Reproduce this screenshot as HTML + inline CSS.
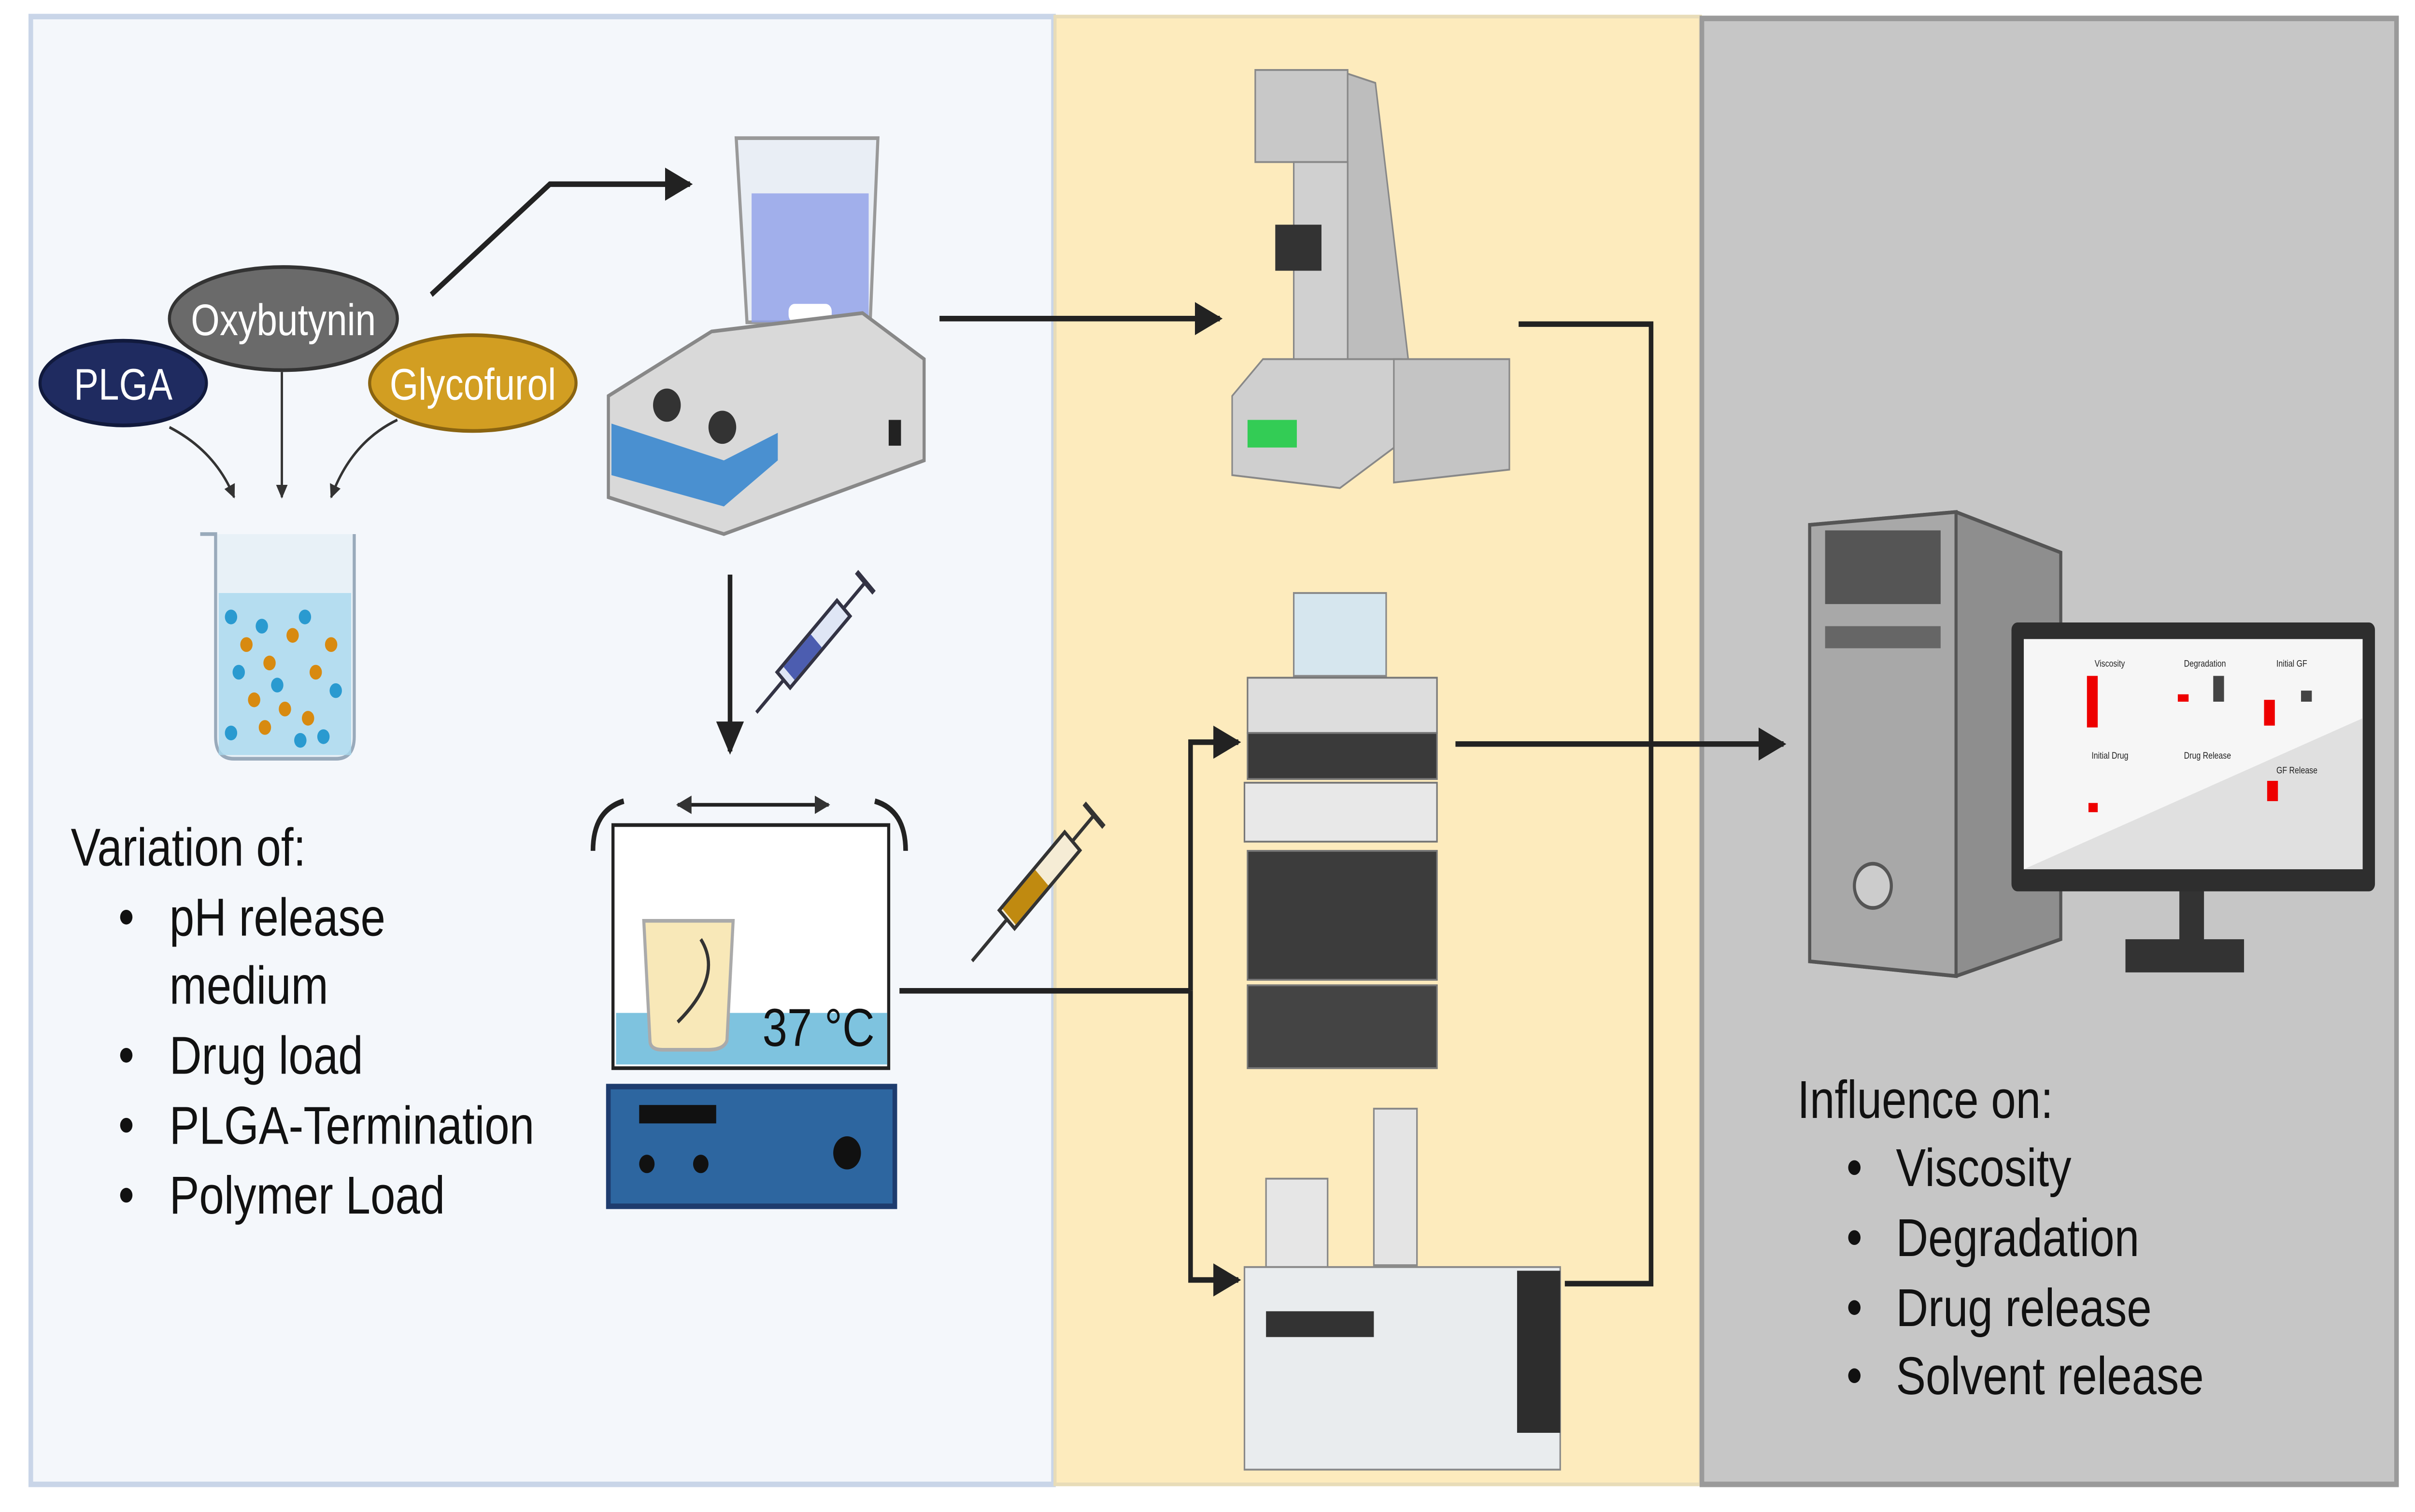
<!DOCTYPE html>
<html><head><meta charset="utf-8"><style>html,body{margin:0;padding:0;background:#fff;overflow:hidden;width:100%;height:100%}svg{display:block;position:absolute;left:0;top:0;width:100vw;height:100vh}</style></head>
<body>
<svg viewBox="0 0 1568 821" preserveAspectRatio="none" xmlns="http://www.w3.org/2000/svg" font-family="Liberation Sans, sans-serif">
<defs>
<marker id="a" viewBox="0 0 10 10" refX="9" refY="5" markerWidth="6" markerHeight="6" orient="auto"><path d="M0,0L10,5L0,10z" fill="#222"/></marker>
<marker id="s" viewBox="0 0 10 10" refX="9" refY="5" markerWidth="5" markerHeight="5" orient="auto"><path d="M0,0L10,5L0,10z" fill="#333"/></marker>
<marker id="s2" viewBox="0 0 10 10" refX="1" refY="5" markerWidth="5" markerHeight="5" orient="auto"><path d="M10,0L0,5L10,10z" fill="#333"/></marker>
</defs>
<rect width="1568" height="821" fill="#fff"/>
<rect x="20" y="9" width="664" height="797" fill="#f4f7fb" stroke="#c9d5e8" stroke-width="3"/>
<rect x="685" y="9" width="419" height="797" fill="#fdebbd" stroke="#e8dcb8" stroke-width="2"/>
<rect x="1105" y="10" width="451" height="796" fill="#c6c6c6" stroke="#9a9a9a" stroke-width="3"/>

<ellipse cx="184" cy="173" rx="74" ry="28" fill="#6a6a6a" stroke="#333" stroke-width="2"/>
<text x="184" y="182" font-size="24" fill="#fff" text-anchor="middle">Oxybutynin</text>
<ellipse cx="80" cy="208" rx="54" ry="23" fill="#1f2b60" stroke="#111a3d" stroke-width="2"/>
<text x="80" y="217" font-size="24" fill="#fff" text-anchor="middle">PLGA</text>
<ellipse cx="307" cy="208" rx="67" ry="26" fill="#d29e22" stroke="#8a6410" stroke-width="2"/>
<text x="307" y="217" font-size="24" fill="#fff" text-anchor="middle">Glycofurol</text>
<path d="M110,232 Q140,245 152,270" fill="none" stroke="#333" stroke-width="1.5" marker-end="url(#s)"/>
<line x1="183" y1="202" x2="183" y2="270" stroke="#333" stroke-width="1.5" marker-end="url(#s)"/>
<path d="M258,228 Q228,240 215,270" fill="none" stroke="#333" stroke-width="1.5" marker-end="url(#s)"/>

<path d="M130,290 L140,290 L140,400 Q140,412 152,412 L218,412 Q230,412 230,400 L230,290" fill="#e8f1f7" stroke="#9ab" stroke-width="2"/>
<rect x="142" y="322" width="86" height="88" fill="#a8d8ee" opacity="0.8"/>
<g fill="#d88a10"><circle cx="160" cy="350" r="4"/><circle cx="175" cy="360" r="4"/><circle cx="190" cy="345" r="4"/><circle cx="205" cy="365" r="4"/><circle cx="165" cy="380" r="4"/><circle cx="185" cy="385" r="4"/><circle cx="200" cy="390" r="4"/><circle cx="215" cy="350" r="4"/><circle cx="172" cy="395" r="4"/></g>
<g fill="#2a9ad0"><circle cx="150" cy="335" r="4"/><circle cx="170" cy="340" r="4"/><circle cx="198" cy="335" r="4"/><circle cx="218" cy="375" r="4"/><circle cx="155" cy="365" r="4"/><circle cx="180" cy="372" r="4"/><circle cx="195" cy="402" r="4"/><circle cx="210" cy="400" r="4"/><circle cx="150" cy="398" r="4"/></g>

<g font-size="29" fill="#111">
<text x="46" y="470">Variation of:</text>
<text x="110" y="508">pH release</text><text x="110" y="545">medium</text>
<text x="110" y="583">Drug load</text><text x="110" y="621">PLGA-Termination</text><text x="110" y="659">Polymer Load</text>
</g>
<g fill="#111"><circle cx="82" cy="498" r="4"/><circle cx="82" cy="573" r="4"/><circle cx="82" cy="611" r="4"/><circle cx="82" cy="649" r="4"/></g>

<polyline points="280,160 357,100 448,100" fill="none" stroke="#222" stroke-width="3" marker-end="url(#a)"/>
<path d="M478,75 L570,75 L565,175 L485,175z" fill="#e9eef5" stroke="#999" stroke-width="2"/>
<rect x="488" y="105" width="76" height="70" fill="#8f9fe8" opacity="0.8"/>
<rect x="512" y="165" width="28" height="10" rx="4" fill="#fff"/>
<path d="M462,180 L560,170 L600,195 L600,250 L470,290 L395,270 L395,215z" fill="#d9d9d9" stroke="#888" stroke-width="2"/>
<path d="M397,230 L470,250 L505,235 L505,250 L470,275 L397,258z" fill="#4a90d0"/>
<circle cx="433" cy="220" r="9" fill="#333"/><circle cx="469" cy="232" r="9" fill="#333"/>
<rect x="577" y="228" width="8" height="14" fill="#222"/>

<line x1="610" y1="173" x2="792" y2="173" stroke="#222" stroke-width="3" marker-end="url(#a)"/>
<line x1="474" y1="312" x2="474" y2="408" stroke="#222" stroke-width="3" marker-end="url(#a)"/>
<g transform="translate(530,348) rotate(-45)"><rect x="-30" y="-6" width="55" height="12" fill="#dfe6f5" stroke="#334" stroke-width="2"/><rect x="-25" y="-5" width="25" height="10" fill="#4c5db0"/><line x1="-30" y1="0" x2="-55" y2="0" stroke="#334" stroke-width="2"/><line x1="25" y1="0" x2="45" y2="0" stroke="#334" stroke-width="2"/><line x1="45" y1="-8" x2="45" y2="8" stroke="#334" stroke-width="3"/></g>
<g transform="translate(675,478) rotate(-45)"><rect x="-30" y="-7" width="60" height="14" fill="#f5ecd5" stroke="#333" stroke-width="2"/><rect x="-28" y="-6" width="30" height="12" fill="#c08a10"/><line x1="-30" y1="0" x2="-62" y2="0" stroke="#333" stroke-width="2"/><line x1="30" y1="0" x2="50" y2="0" stroke="#333" stroke-width="2"/><line x1="50" y1="-9" x2="50" y2="9" stroke="#333" stroke-width="3"/></g>

<line x1="440" y1="437" x2="538" y2="437" stroke="#222" stroke-width="2" marker-start="url(#s2)" marker-end="url(#s)"/>
<path d="M385,462 Q385,440 405,435" fill="none" stroke="#222" stroke-width="3"/>
<path d="M588,462 Q588,440 568,435" fill="none" stroke="#222" stroke-width="3"/>
<rect x="398" y="448" width="179" height="132" fill="#fff" stroke="#222" stroke-width="2"/>
<rect x="400" y="550" width="176" height="28" fill="#7ec3df"/>
<path d="M418,500 L476,500 L472,565 Q470,570 460,570 L430,570 Q422,570 422,565z" fill="#f8e8b8" stroke="#aaa" stroke-width="2"/>
<path d="M440,555 Q470,530 455,510" fill="none" stroke="#333" stroke-width="2"/>
<text x="495" y="568" font-size="29" fill="#111">37 °C</text>
<rect x="395" y="590" width="186" height="65" fill="#2d66a0" stroke="#1e3c6e" stroke-width="3"/>
<rect x="415" y="600" width="50" height="10" fill="#111"/>
<circle cx="420" cy="632" r="5" fill="#111"/><circle cx="455" cy="632" r="5" fill="#111"/><circle cx="550" cy="626" r="9" fill="#111"/>

<polyline points="584,538 773,538" fill="none" stroke="#222" stroke-width="3"/>
<polyline points="773,538 773,403 804,403" fill="none" stroke="#222" stroke-width="3" marker-end="url(#a)"/>
<polyline points="773,538 773,695 804,695" fill="none" stroke="#222" stroke-width="3" marker-end="url(#a)"/>
<polyline points="986,176 1072,176 1072,697 1016,697" fill="none" stroke="#222" stroke-width="3"/>
<line x1="945" y1="404" x2="1158" y2="404" stroke="#222" stroke-width="3" marker-end="url(#a)"/>

<rect x="815" y="38" width="60" height="50" fill="#c8c8c8" stroke="#888"/>
<path d="M875,40 L893,45 L920,235 L875,235z" fill="#bdbdbd" stroke="#888"/>
<rect x="840" y="88" width="35" height="110" fill="#d0d0d0" stroke="#888"/>
<rect x="828" y="122" width="30" height="25" fill="#333"/>
<path d="M820,195 L910,195 L910,240 L870,265 L800,258 L800,215z" fill="#cfcfcf" stroke="#888"/>
<rect x="810" y="228" width="32" height="15" fill="#3c5"/>
<path d="M905,195 L980,195 L980,255 L905,262z" fill="#c4c4c4" stroke="#888"/>
<rect x="840" y="322" width="60" height="45" fill="#d6e6ee" stroke="#888"/>
<rect x="810" y="368" width="123" height="30" fill="#ddd" stroke="#777"/>
<rect x="810" y="398" width="123" height="25" fill="#3a3a3a" stroke="#777"/>
<rect x="808" y="425" width="125" height="32" fill="#e8e8e8" stroke="#777"/>
<rect x="810" y="462" width="123" height="70" fill="#3c3c3c" stroke="#777"/>
<rect x="810" y="535" width="123" height="45" fill="#444" stroke="#777"/>
<rect x="892" y="602" width="28" height="85" fill="#e4e4e4" stroke="#888"/>
<rect x="822" y="640" width="40" height="48" fill="#e6e6e6" stroke="#888"/>
<rect x="808" y="688" width="205" height="110" fill="#e9ecee" stroke="#888"/>
<rect x="822" y="712" width="70" height="14" fill="#333"/>
<rect x="985" y="690" width="28" height="88" fill="#2d2d2d"/>

<path d="M1175,285 L1270,278 L1338,300 L1338,510 L1270,530 L1175,522z" fill="#8e8e8e" stroke="#555" stroke-width="2"/>
<path d="M1175,285 L1270,278 L1270,530 L1175,522z" fill="#a8a8a8" stroke="#555" stroke-width="2"/>
<rect x="1185" y="288" width="75" height="40" fill="#555"/>
<rect x="1185" y="340" width="75" height="12" fill="#666"/>
<circle cx="1216" cy="481" r="12" fill="#ccc" stroke="#555" stroke-width="2"/>
<rect x="1415" y="480" width="16" height="35" fill="#333"/>
<rect x="1380" y="510" width="77" height="18" fill="#333"/>
<rect x="1306" y="338" width="236" height="146" rx="4" fill="#2e2e2e"/>
<rect x="1314" y="347" width="220" height="125" fill="#f6f6f6"/>
<path d="M1314,472 L1534,390 L1534,472z" fill="#e0e0e0"/>
<g font-size="5" fill="#222"><text x="1360" y="362">Viscosity</text><text x="1418" y="362">Degradation</text><text x="1478" y="362">Initial GF</text><text x="1358" y="412">Initial Drug</text><text x="1418" y="412">Drug Release</text><text x="1478" y="420">GF Release</text></g>
<rect x="1355" y="367" width="7" height="28" fill="#e00"/><rect x="1414" y="377" width="7" height="4" fill="#e00"/><rect x="1437" y="367" width="7" height="14" fill="#444"/>
<rect x="1470" y="380" width="7" height="14" fill="#e00"/><rect x="1494" y="375" width="7" height="6" fill="#444"/>
<rect x="1356" y="436" width="6" height="5" fill="#e00"/><rect x="1472" y="424" width="7" height="11" fill="#e00"/>

<g font-size="29" fill="#111">
<text x="1167" y="607">Influence on:</text>
<text x="1231" y="644">Viscosity</text><text x="1231" y="682">Degradation</text><text x="1231" y="720">Drug release</text><text x="1231" y="757">Solvent release</text>
</g>
<g fill="#111"><circle cx="1204" cy="634" r="4"/><circle cx="1204" cy="672" r="4"/><circle cx="1204" cy="710" r="4"/><circle cx="1204" cy="747" r="4"/></g>
</svg>
</body></html>
